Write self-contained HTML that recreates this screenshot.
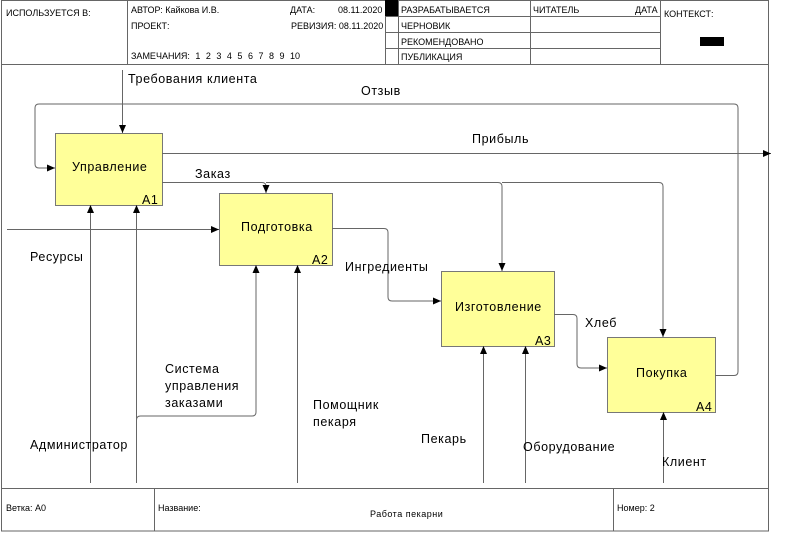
<!DOCTYPE html>
<html><head><meta charset="utf-8"><style>
body{margin:0;background:#fff;}
svg text{font-family:"Liberation Sans",sans-serif;fill:#000;}
.h{font-size:9px;}
.l{font-size:12.5px;letter-spacing:0.6px;}
</style></head><body>
<svg width="799" height="532" viewBox="0 0 799 532" xmlns="http://www.w3.org/2000/svg">
<defs><marker id="a" markerWidth="8" markerHeight="8" refX="8" refY="4" orient="auto" markerUnits="userSpaceOnUse"><path d="M0,0.5 L8,4 L0,7.5 z" fill="#000"/></marker></defs>
<g stroke="#666" fill="none" stroke-width="1">
<rect x="1.5" y="0.5" width="767" height="530.5"/>
<line x1="1" y1="64.5" x2="768" y2="64.5"/>
<line x1="1" y1="488.5" x2="768" y2="488.5"/>
<line x1="127.5" y1="0" x2="127.5" y2="64"/>
<line x1="385.5" y1="0" x2="385.5" y2="64"/>
<line x1="398.5" y1="0" x2="398.5" y2="64"/>
<line x1="530.5" y1="0" x2="530.5" y2="64"/>
<line x1="660.5" y1="0" x2="660.5" y2="64"/>
<line x1="385" y1="16.5" x2="660" y2="16.5"/>
<line x1="385" y1="32.5" x2="660" y2="32.5"/>
<line x1="385" y1="48.5" x2="660" y2="48.5"/>
<line x1="154.5" y1="488" x2="154.5" y2="531"/>
<line x1="613.5" y1="488" x2="613.5" y2="531"/>
</g>
<rect x="385" y="0" width="13" height="16" fill="#000"/>
<rect x="700" y="37" width="24" height="9" fill="#000"/>
<text class="h" x="6" y="16">ИСПОЛЬЗУЕТСЯ В:</text>
<text class="h" x="131" y="13">АВТОР: Кайкова И.В.</text>
<text class="h" x="290" y="13">ДАТА:</text>
<text class="h" x="338" y="13">08.11.2020</text>
<text class="h" x="131" y="29">ПРОЕКТ:</text>
<text class="h" x="291" y="29">РЕВИЗИЯ: 08.11.2020</text>
<text class="h" x="131" y="59" style="word-spacing:3px">ЗАМЕЧАНИЯ:  1 2 3 4 5 6 7 8 9 10</text>
<text class="h" x="401" y="13">РАЗРАБАТЫВАЕТСЯ</text>
<text class="h" x="401" y="29">ЧЕРНОВИК</text>
<text class="h" x="401" y="45">РЕКОМЕНДОВАНО</text>
<text class="h" x="401" y="60">ПУБЛИКАЦИЯ</text>
<text class="h" x="533" y="13">ЧИТАТЕЛЬ</text>
<text class="h" x="635" y="13">ДАТА</text>
<text class="h" x="664" y="17">КОНТЕКСТ:</text>
<text class="h" x="6" y="511">Ветка:  A0</text>
<text class="h" x="158" y="511">Название:</text>
<text class="h" x="370" y="517" style="letter-spacing:0.5px">Работа пекарни</text>
<text class="h" x="617" y="511">Номер: 2</text>
<g fill="#ffff99" stroke="#777">
<rect x="55.5" y="133.5" width="107" height="72"/>
<rect x="219.5" y="193.5" width="113" height="72"/>
<rect x="441.5" y="271.5" width="113" height="75"/>
<rect x="607.5" y="337.5" width="108" height="75"/>
</g>
<text class="l" x="72" y="171">Управление</text>
<text class="l" x="142" y="204">A1</text>
<text class="l" x="241" y="231">Подготовка</text>
<text class="l" x="312" y="264">A2</text>
<text class="l" x="455" y="311">Изготовление</text>
<text class="l" x="535" y="345">A3</text>
<text class="l" x="636" y="377">Покупка</text>
<text class="l" x="696" y="411">A4</text>
<g stroke="#666" fill="none" marker-end="url(#a)">
<path d="M122.5,70 V133"/>
<path d="M715,375.5 H734 q4,0 4,-4 V108 q0,-4 -4,-4 H39 q-4,0 -4,4 V164 q0,4 4,4 H55"/>
<path d="M162,153.5 H771"/>
<path d="M162,182.5 H262 q4,0 4,4 V193"/>
<path d="M266,182.5 H498 q4,0 4,4 V271"/>
<path d="M502,182.5 H659 q4,0 4,4 V337"/>
<path d="M7,229.5 H219"/>
<path d="M332,228.5 H384 q4,0 4,4 V297 q0,4 4,4 H441"/>
<path d="M554,314.5 H573 q4,0 4,4 V364 q0,4 4,4 H607"/>
<path d="M90.5,483 V205"/>
<path d="M136.5,483 V205"/>
<path d="M136.5,420 q0,-4 4,-4 H252 q4,0 4,-4 V265"/>
<path d="M297.5,483 V265"/>
<path d="M483.5,483 V346"/>
<path d="M525.5,483 V346"/>
<path d="M663.5,483 V412"/>
</g>
<text class="l" x="128" y="83">Требования клиента</text>
<text class="l" x="361" y="95">Отзыв</text>
<text class="l" x="472" y="143">Прибыль</text>
<text class="l" x="195" y="178">Заказ</text>
<text class="l" x="30" y="261">Ресурсы</text>
<text class="l" x="345" y="271">Ингредиенты</text>
<text class="l" x="585" y="327">Хлеб</text>
<text class="l" x="165" y="373">Система</text>
<text class="l" x="165" y="390">управления</text>
<text class="l" x="165" y="407">заказами</text>
<text class="l" x="313" y="409">Помощник</text>
<text class="l" x="313" y="426">пекаря</text>
<text class="l" x="30" y="449">Администратор</text>
<text class="l" x="421" y="443">Пекарь</text>
<text class="l" x="523" y="451">Оборудование</text>
<text class="l" x="662" y="466">Клиент</text>
</svg>
</body></html>
